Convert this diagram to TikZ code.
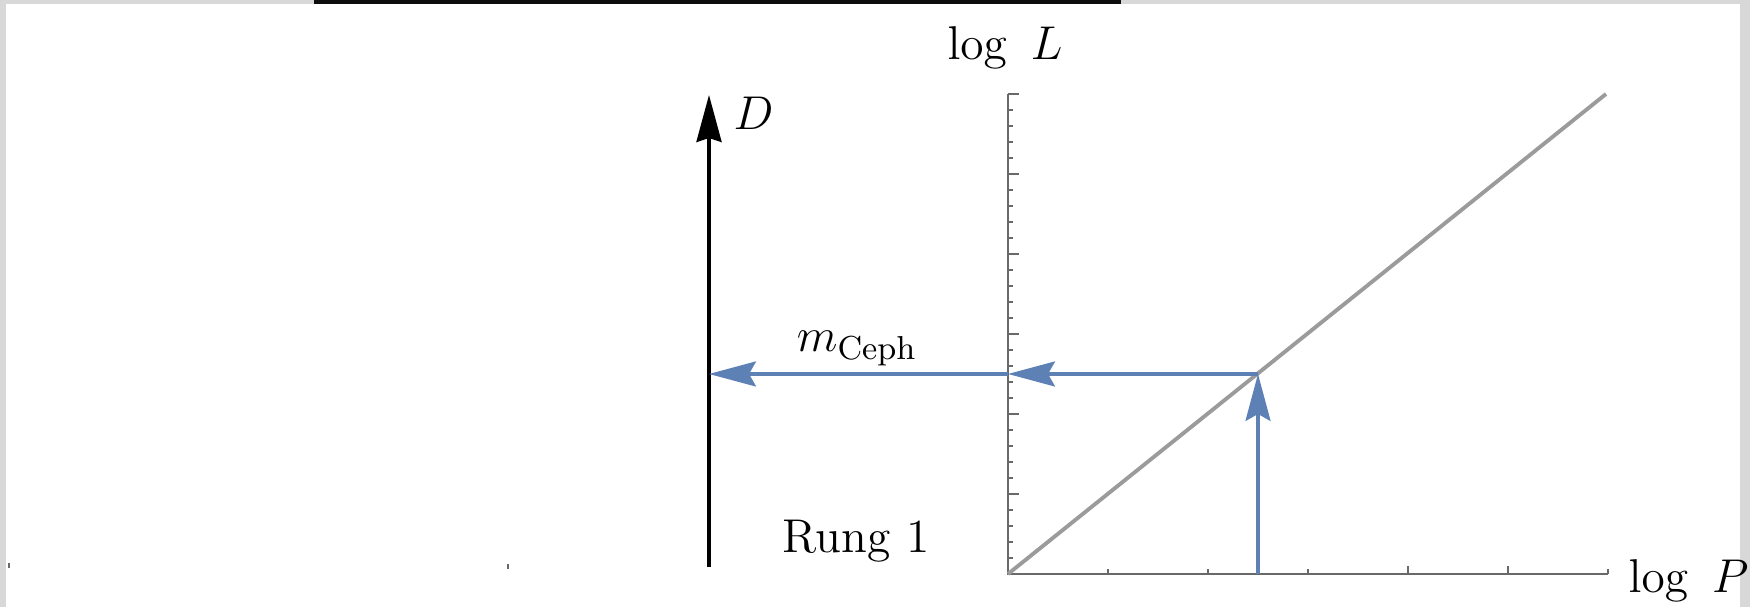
\RequirePackage{fix-cm}
\documentclass[tikz,border=0pt]{standalone}
\usetikzlibrary{arrows.meta}
\definecolor{mmablue}{RGB}{94,129,181}
\definecolor{axisgray}{RGB}{105,105,105}
\definecolor{linegray}{RGB}{155,155,155}
\definecolor{framegray}{RGB}{216,216,216}

\begin{document}
\begin{tikzpicture}[x=0.1mm, y=0.1mm, font=\fontsize{13.5}{16}\selectfont,
  axis/.style={axisgray, line width=0.5pt},
  label/.style={inner sep=0pt},
  flow/.style={mmablue, line width=0.9pt, -{Stealth[length=4.7mm, width=2.5mm, inset=0.7mm]}}]
  \useasboundingbox (0,0) rectangle (1750,607);
  % screenshot frame
  \fill[framegray] (0,0) rectangle (6,607);
  \fill[framegray] (0,603) rectangle (1750,607);
  \fill[framegray] (1740,0) rectangle (1750,607);
  \fill[black!95] (314,603) rectangle (1121,607);
  \draw[axisgray, line width=0.4pt] (9,39) -- ++(0,5);
  \draw[axisgray, line width=0.4pt] (508,38) -- ++(0,5);

  \coordinate (O) at (1008,33);
  \coordinate (Ltop) at (1008,513);
  \coordinate (Pend) at (1608,33);
  \coordinate (fitend) at (1606,513);
  \coordinate (Pstar) at (1258,33);
  \coordinate (hit) at (1258,233);
  \coordinate (Lstar) at (1008,233);
  \coordinate (Dbot) at (709,40);
  \coordinate (Dtop) at (709,512);
  \coordinate (Dstar) at (709,233);

  % period-luminosity plot
  \draw[axis] (Ltop) -- (O) -- (Pend);
  \foreach \k in {1,...,30} \draw[axis] (1008,{33+16*\k}) -- ++(5,0);
  \foreach \k in {5,10,...,30} \draw[axis] (1008,{33+16*\k}) -- ++(11,0);
  \foreach \k in {1,2,3,6} \draw[axis] ({1008+100*\k},33) -- ++(0,5);
  \foreach \k in {4,5} \draw[axis] ({1008+100*\k},33) -- ++(0,8);
  \node[label, anchor=base] (logL) at (1005,547) {$\log\ L$};
  \node[label, anchor=base west] (logP) at (1628,14) {$\log\ P$};
  \draw[linegray, line width=1.1pt] (O) -- (fitend);

  % distance axis
  \draw[black, line width=1pt, -{Stealth[length=4.7mm, width=2.5mm, inset=0.4mm]}] (Dbot) -- (Dtop);
  \node[label, anchor=base west] (Dlab) at (733,477) {$D$};

  \draw[flow] (Pstar) -- (hit);
  \draw[flow] (hit) -- (Lstar);
  \draw[flow] (Lstar) -- (Dstar);
  \node[label, anchor=base] (mceph) at (857,255) {$m_{\mathrm{Ceph}}$};
  \node[label, anchor=base] (rung) at (856,54) {Rung 1};
\end{tikzpicture}
\end{document}
